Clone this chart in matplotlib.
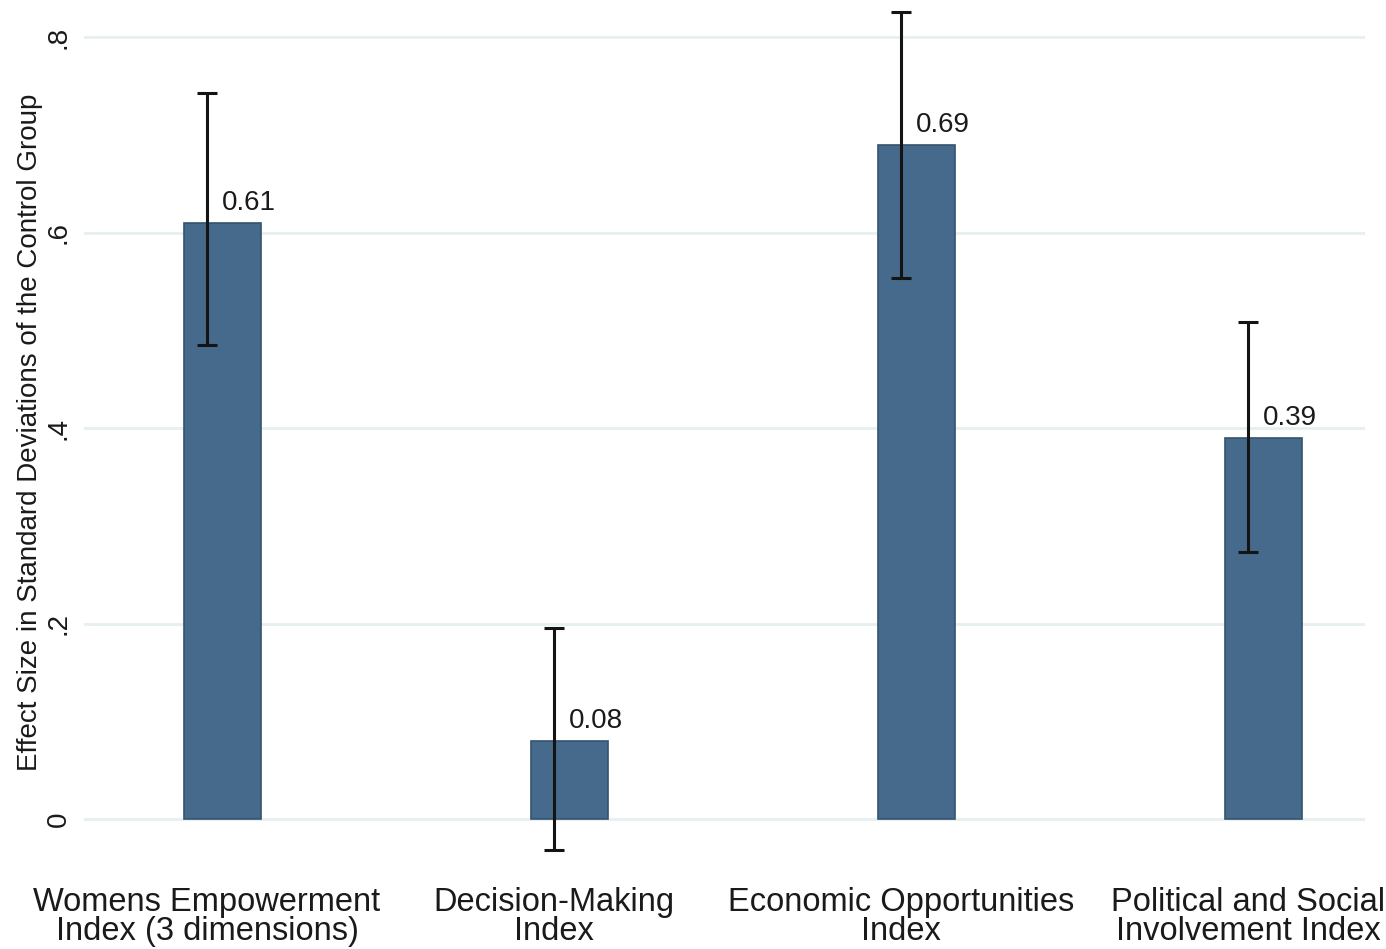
import matplotlib
matplotlib.use("Agg")
import matplotlib.pyplot as plt
import numpy as np

plt.rcParams['font.family'] = ['Liberation Sans', 'DejaVu Sans']

categories = ["Womens Empowerment\nIndex (3 dimensions)",
              "Decision-Making\nIndex",
              "Economic Opportunities\nIndex",
              "Political and Social\nInvolvement Index"]
effects = [0.61, 0.08, 0.69, 0.39]
ci_low = [0.485, -0.032, 0.554, 0.273]
ci_high = [0.743, 0.195, 0.826, 0.509]
value_labels = ["0.61", "0.08", "0.69", "0.39"]
ytick_vals = [0, 0.2, 0.4, 0.6, 0.8]
ytick_labels = ["0", ".2", ".4", ".6", ".8"]

bar_color = "#466a8b"
edge_color = "#33536f"
grid_color = "#e6eff1"

fig = plt.figure(figsize=(13.86, 9.49), dpi=100)
ax = fig.add_axes([84 / 1386, 1 - 858 / 949, (1365 - 84) / 1386, 850 / 949])

x = np.arange(len(categories))
bar_shift = 0.044
bar_w = 0.222

ax.bar(x + bar_shift, effects, width=bar_w, color=bar_color,
       edgecolor=edge_color, linewidth=1.2, zorder=2)

eff = np.array(effects)
yerr = np.vstack([eff - np.array(ci_low), np.array(ci_high) - eff])
ax.errorbar(x, eff, yerr=yerr, fmt="none", ecolor="#141414",
            elinewidth=2.2, capsize=7, capthick=2.2, zorder=3)

for xi, v, lab in zip(x, effects, value_labels):
    ax.annotate(lab, xy=(xi + bar_shift, v), xytext=(0, 5),
                textcoords="offset points", ha="left", va="bottom",
                fontsize=20, color="#1a1a1a", zorder=4)

ax.set_xlim(-0.3545, 3.337)
ax.set_ylim(-0.04, 0.83)

ax.set_yticks(ytick_vals)
ax.set_yticklabels(ytick_labels, rotation=90, va="center", fontsize=20,
                   color="#1a1a1a")
ax.set_xticks(x)
ax.set_xticklabels(categories, fontsize=23.5, color="#1a1a1a", linespacing=0.92)
ax.tick_params(axis="both", length=0)
ax.tick_params(axis="y", pad=9)
ax.tick_params(axis="x", pad=21)

ax.grid(axis="y", color=grid_color, linewidth=2, zorder=0)
ax.set_axisbelow(True)
for s in ax.spines.values():
    s.set_visible(False)

ax.set_ylabel("Effect Size in Standard Deviations of the Control Group",
              fontsize=20, color="#1a1a1a")
ax.yaxis.label.set_va("center")
ax.yaxis.set_label_coords(-0.042, 0.501)

fig.savefig("out.png", dpi=100, facecolor="white")
